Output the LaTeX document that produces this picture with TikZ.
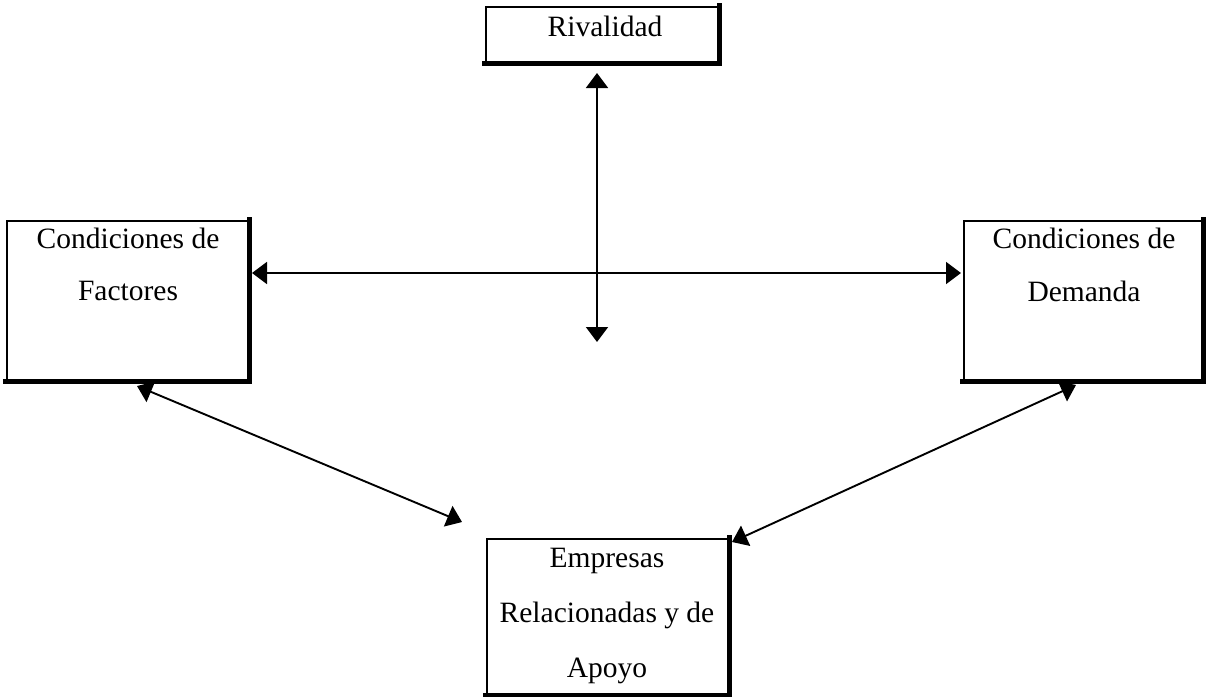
\documentclass[tikz,border=0pt]{standalone}
\usepackage{fontspec}
\setmainfont{Liberation Serif}
\usetikzlibrary{arrows.meta}
\begin{document}
\begin{tikzpicture}[x=1pt,y=-1pt,
  txt/.style={font=\fontsize{29.5}{35}\selectfont, anchor=base, inner sep=0pt},
  boxframe/.style={draw, line width=2.6pt, inner sep=0pt},
  edgeline/.style={line width=4.5pt, line cap=rect},
  link/.style={line width=1.9pt, {Triangle[length=15pt,width=22pt]}-{Triangle[length=15pt,width=22pt]}}]
\useasboundingbox (0,0) rectangle (1206,696);

% boxes
\node[boxframe, minimum width=232pt, minimum height=55pt] (riv) at (602,34.5) {};
\node[boxframe, minimum width=241pt, minimum height=159pt] (fac) at (127.5,300.5) {};
\node[boxframe, minimum width=238pt, minimum height=159pt] (dem) at (1083,300.5) {};
\node[boxframe, minimum width=241pt, minimum height=155pt] (emp) at (607.5,616.5) {};

\foreach \b in {riv,fac,dem,emp}
  \draw[edgeline] (\b.north east) -- (\b.south east) -- (\b.south west);

% texts
\node[txt] (rivt) at (605,36) {Rivalidad};
\node[txt] (fac1) at (128,248) {Condiciones de};
\node[txt] (fac2) at (128,300) {Factores};
\node[txt] (dem1) at (1084,248) {Condiciones de};
\node[txt] (dem2) at (1084,301) {Demanda};
\node[txt] (emp1) at (607,567) {Empresas};
\node[txt] (emp2) at (607,622) {Relacionadas y de};
\node[txt] (emp3) at (607,677) {Apoyo};

% connector ends
\coordinate (vtop) at (597,73);
\coordinate (vbot) at (597,342);
\coordinate (hleft) at (252,273);
\coordinate (hright) at (961,273);
\coordinate (dlf) at (137,386);
\coordinate (dle) at (462,522);
\coordinate (drd) at (1076,385);
\coordinate (dre) at (732,542);

\draw[link] (vtop) -- (vbot);
\draw[link] (hleft) -- (hright);
\draw[link] (dlf) -- (dle);
\draw[link] (drd) -- (dre);
\end{tikzpicture}
\end{document}
